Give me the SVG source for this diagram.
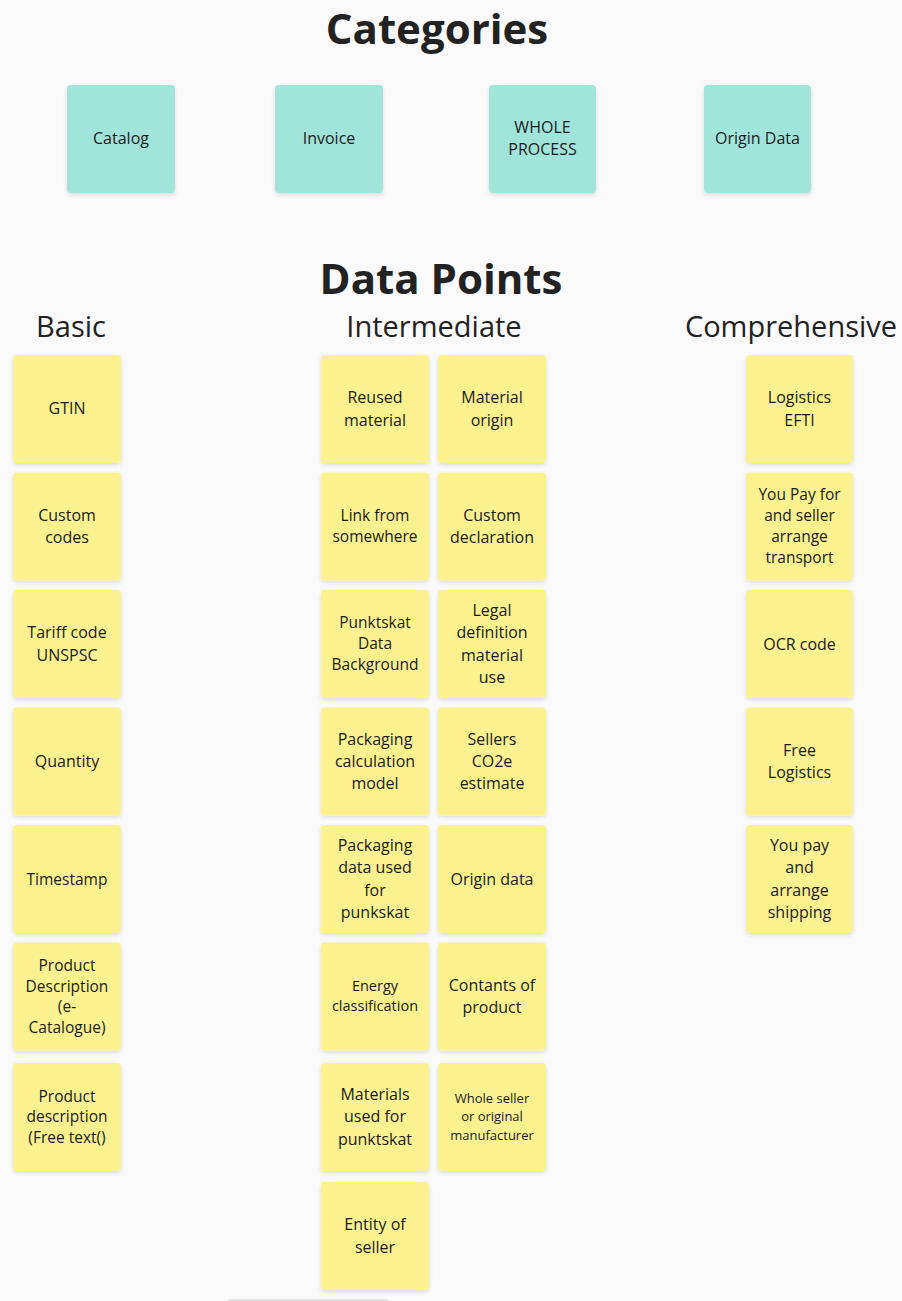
<svg xmlns="http://www.w3.org/2000/svg" width="902" height="1301" viewBox="0 0 902 1301">
<defs>
<filter id="sh" x="-10%" y="-10%" width="120%" height="125%">
<feDropShadow dx="0" dy="2" stdDeviation="2" flood-color="#000" flood-opacity="0.12"/>
</filter>
</defs>
<style>
text{font-family:"Open Sans","Liberation Sans",sans-serif;fill:#1c1c1c;text-anchor:middle}
.h1{font-size:42px;font-weight:700;fill:#222}
.h2{font-size:29px;font-weight:400;fill:#222}
.teal{fill:#a0e4da;filter:url(#sh)}
.yel{fill:#fbf18f;filter:url(#sh)}
.t16{font-size:16px}
.t15{font-size:15.5px}
.t14{font-size:14.5px}
.t13{font-size:13px}
</style>
<rect width="902" height="1301" fill="#fafafa"/>
<text class="h1" x="437" y="44">Categories</text>
<text class="h1" x="441" y="294">Data Points</text>
<text class="h2" x="71" y="337">Basic</text>
<text class="h2" x="434" y="337">Intermediate</text>
<text class="h2" x="791" y="337">Comprehensive</text>

<g id="connectors"></g>

<g id="cat-catalog"><rect class="teal" x="67" y="85" width="108" height="108" rx="4"/><text class="t16" x="121" y="144">Catalog</text></g>
<g id="cat-invoice"><rect class="teal" x="275" y="85" width="108" height="108" rx="4"/><text class="t16" x="329" y="144">Invoice</text></g>
<g id="cat-whole"><rect class="teal" x="489" y="85" width="107" height="108" rx="4"/><text class="t16" x="542.5" y="133">WHOLE</text><text class="t16" x="542.5" y="155">PROCESS</text></g>
<g id="cat-origin"><rect class="teal" x="704" y="85" width="107" height="108" rx="4"/><text class="t16" x="757.5" y="144">Origin Data</text></g>

<!-- Basic -->
<g id="b-gtin"><rect class="yel" x="13" y="355" width="108" height="108" rx="4"/><text class="t16" x="67" y="414">GTIN</text></g>
<g id="b-custom"><rect class="yel" x="13" y="472.5" width="108" height="108" rx="4"/><text class="t16" x="67" y="521">Custom</text><text class="t16" x="67" y="543">codes</text></g>
<g id="b-tariff"><rect class="yel" x="13" y="590" width="108" height="108" rx="4"/><text class="t16" x="67" y="638">Tariff code</text><text class="t16" x="67" y="661">UNSPSC</text></g>
<g id="b-quantity"><rect class="yel" x="13" y="707.5" width="108" height="108" rx="4"/><text class="t16" x="67" y="767">Quantity</text></g>
<g id="b-timestamp"><rect class="yel" x="13" y="825" width="108" height="108" rx="4"/><text class="t15" x="67" y="885">Timestamp</text></g>
<g id="b-proddesc"><rect class="yel" x="13" y="942.5" width="108" height="108" rx="4"/><text class="t15" x="67" y="970.5">Product</text><text class="t15" x="67" y="991.5">Description</text><text class="t15" x="67" y="1012">(e-</text><text class="t15" x="67" y="1033">Catalogue)</text></g>
<g id="b-prodfree"><rect class="yel" x="13" y="1063" width="108" height="108" rx="4"/><text class="t15" x="67" y="1101.5">Product</text><text class="t15" x="67" y="1122">description</text><text class="t15" x="67" y="1143">(Free text()</text></g>

<!-- Intermediate col 1 -->
<g id="i-reused"><rect class="yel" x="321" y="355" width="108" height="108" rx="4"/><text class="t16" x="375" y="403">Reused</text><text class="t16" x="375" y="426">material</text></g>
<g id="i-link"><rect class="yel" x="321" y="472.5" width="108" height="108" rx="4"/><text class="t15" x="375" y="521">Link from</text><text class="t15" x="375" y="542">somewhere</text></g>
<g id="i-punkt"><rect class="yel" x="321" y="590" width="108" height="108" rx="4"/><text class="t15" x="375" y="627.5">Punktskat</text><text class="t15" x="375" y="648.5">Data</text><text class="t15" x="375" y="670">Background</text></g>
<g id="i-packcalc"><rect class="yel" x="321" y="707.5" width="108" height="108" rx="4"/><text class="t16" x="375" y="745">Packaging</text><text class="t16" x="375" y="767">calculation</text><text class="t16" x="375" y="789">model</text></g>
<g id="i-packdata"><rect class="yel" x="321" y="825" width="108" height="108" rx="4"/><text class="t16" x="375" y="851">Packaging</text><text class="t16" x="375" y="873">data used</text><text class="t16" x="375" y="896">for</text><text class="t16" x="375" y="918">punkskat</text></g>
<g id="i-energy"><rect class="yel" x="321" y="942.5" width="108" height="108" rx="4"/><text class="t14" x="375" y="991">Energy</text><text class="t14" x="375" y="1011">classification</text></g>
<g id="i-materials"><rect class="yel" x="321" y="1063" width="108" height="108" rx="4"/><text class="t16" x="375" y="1100">Materials</text><text class="t16" x="375" y="1122">used for</text><text class="t16" x="375" y="1145">punktskat</text></g>
<g id="i-entity"><rect class="yel" x="321" y="1182" width="108" height="108" rx="4"/><text class="t16" x="375" y="1230">Entity of</text><text class="t16" x="375" y="1253">seller</text></g>

<!-- Intermediate col 2 -->
<g id="i-matorigin"><rect class="yel" x="438" y="355" width="108" height="108" rx="4"/><text class="t16" x="492" y="403">Material</text><text class="t16" x="492" y="426">origin</text></g>
<g id="i-customdecl"><rect class="yel" x="438" y="472.5" width="108" height="108" rx="4"/><text class="t16" x="492" y="521">Custom</text><text class="t16" x="492" y="543">declaration</text></g>
<g id="i-legal"><rect class="yel" x="438" y="590" width="108" height="108" rx="4"/><text class="t16" x="492" y="616">Legal</text><text class="t16" x="492" y="638">definition</text><text class="t16" x="492" y="661">material</text><text class="t16" x="492" y="683">use</text></g>
<g id="i-sellers"><rect class="yel" x="438" y="707.5" width="108" height="108" rx="4"/><text class="t16" x="492" y="745">Sellers</text><text class="t16" x="492" y="767">CO2e</text><text class="t16" x="492" y="789">estimate</text></g>
<g id="i-origindata"><rect class="yel" x="438" y="825" width="108" height="108" rx="4"/><text class="t16" x="492" y="885">Origin data</text></g>
<g id="i-contants"><rect class="yel" x="438" y="942.5" width="108" height="108" rx="4"/><text class="t16" x="492" y="991">Contants of</text><text class="t16" x="492" y="1013">product</text></g>
<g id="i-whole"><rect class="yel" x="438" y="1063" width="108" height="108" rx="4"/><text class="t13" x="492" y="1102.5">Whole seller</text><text class="t13" x="492" y="1120.5">or original</text><text class="t13" x="492" y="1139.5">manufacturer</text></g>

<!-- Comprehensive -->
<g id="c-logistics"><rect class="yel" x="746" y="355" width="107" height="108" rx="4"/><text class="t16" x="799.5" y="403">Logistics</text><text class="t16" x="799.5" y="426">EFTI</text></g>
<g id="c-youpay"><rect class="yel" x="746" y="472.5" width="107" height="108" rx="4"/><text class="t15" x="799.5" y="499.5">You Pay for</text><text class="t15" x="799.5" y="521">and seller</text><text class="t15" x="799.5" y="542">arrange</text><text class="t15" x="799.5" y="563">transport</text></g>
<g id="c-ocr"><rect class="yel" x="746" y="590" width="107" height="108" rx="4"/><text class="t16" x="799.5" y="650">OCR code</text></g>
<g id="c-free"><rect class="yel" x="746" y="707.5" width="107" height="108" rx="4"/><text class="t16" x="799.5" y="756">Free</text><text class="t16" x="799.5" y="778">Logistics</text></g>
<g id="c-shipping"><rect class="yel" x="746" y="825" width="107" height="108" rx="4"/><text class="t16" x="799.5" y="851">You pay</text><text class="t16" x="799.5" y="873">and</text><text class="t16" x="799.5" y="896">arrange</text><text class="t16" x="799.5" y="918">shipping</text></g>

<rect x="227" y="1299" width="163" height="10" rx="4" fill="#e2e2e2"/>
</svg>
